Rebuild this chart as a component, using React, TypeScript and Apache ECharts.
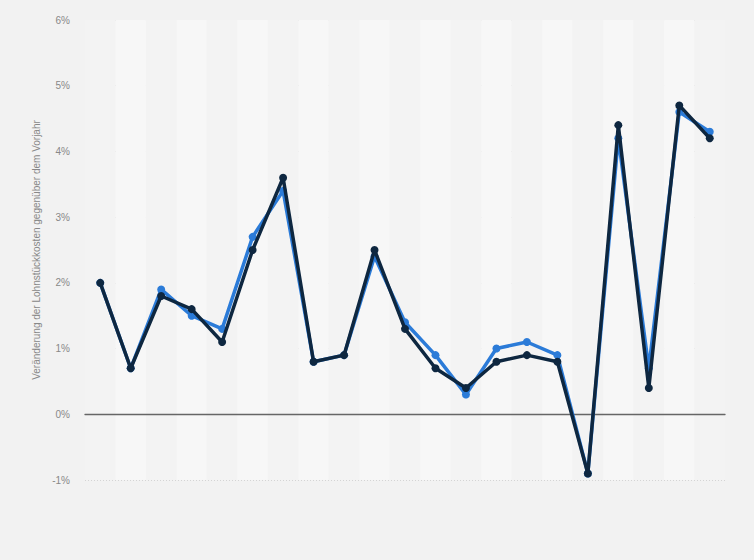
import React, { useEffect, useRef } from "react";
import * as echarts from "echarts";

const categories: string[] = [
  "1", "2", "3", "4", "5", "6", "7", "8", "9", "10", "11",
  "12", "13", "14", "15", "16", "17", "18", "19", "20", "21",
];
const seriesBlue: number[] = [2.0, 0.7, 1.9, 1.5, 1.3, 2.7, 3.4, 0.8, 0.9, 2.4, 1.4, 0.9, 0.3, 1.0, 1.1, 0.9, -0.9, 4.2, 0.7, 4.6, 4.3];
const seriesDark: number[] = [2.0, 0.7, 1.8, 1.6, 1.1, 2.5, 3.6, 0.8, 0.9, 2.5, 1.3, 0.7, 0.4, 0.8, 0.9, 0.8, -0.9, 4.4, 0.4, 4.7, 4.2];
const yTitle = "Veränderung der Lohnstückkosten gegenüber dem Vorjahr";

export default function App() {
  const ref = useRef<HTMLDivElement>(null);
  useEffect(() => {
    if (!ref.current) return;
    const chart = echarts.init(ref.current, null, { renderer: "svg" });
    chart.setOption({
      animation: false,
      backgroundColor: "#f2f2f2",
      grid: { left: 85, right: 29, top: 20, bottom: 80 },
      xAxis: {
        type: "category",
        data: categories,
        boundaryGap: true,
        axisLabel: { show: false },
        axisTick: { show: false },
        axisLine: { show: true, onZero: true, lineStyle: { color: "#666", width: 1.3 } },
        splitArea: { show: true, areaStyle: { color: ["#f3f3f3", "#f7f7f7"] } },
        splitLine: { show: false },
      },
      yAxis: {
        type: "value",
        min: -1,
        max: 6,
        interval: 1,
        name: yTitle,
        nameLocation: "middle",
        nameGap: 42,
        nameTextStyle: { color: "#888", fontSize: 10, fontFamily: "Arial, Liberation Sans, sans-serif" },
        axisLabel: {
          formatter: "{value}%",
          color: "#888",
          fontSize: 10,
          margin: 15,
          fontFamily: "Arial, Liberation Sans, sans-serif",
        },
        axisLine: { show: false },
        axisTick: { show: false },
        splitLine: { lineStyle: { color: "#d4d4d4", type: [1, 2], width: 1 } },
      },
      series: [
        {
          type: "line",
          data: seriesBlue,
          symbol: "circle",
          symbolSize: 8,
          lineStyle: { color: "#2b7bd8", width: 3.5 },
          itemStyle: { color: "#2b7bd8" },
          z: 2,
        },
        {
          type: "line",
          data: seriesDark,
          symbol: "circle",
          symbolSize: 8,
          lineStyle: { color: "#0e2740", width: 3.5 },
          itemStyle: { color: "#0e2740" },
          z: 3,
        },
      ],
    });
    return () => chart.dispose();
  }, []);
  return (
    <div
      ref={ref}
      style={{ position: "fixed", left: 0, top: 0, width: 754, height: 560, background: "#f2f2f2" }}
    />
  );
}
